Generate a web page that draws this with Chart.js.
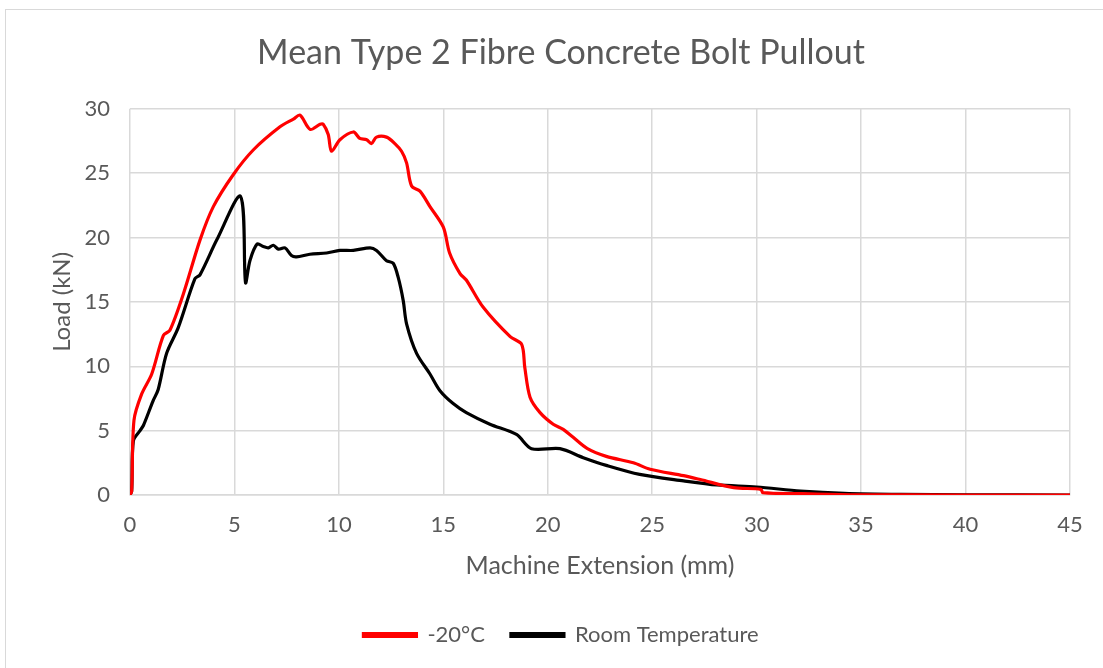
<!DOCTYPE html>
<html>
<head>
<meta charset="utf-8">
<script src="https://cdn.jsdelivr.net/npm/chart.js@4.4.1/dist/chart.umd.min.js"></script>
<style>
    html, body { margin: 0; padding: 0; background: #fff; }
    #wrap { position: absolute; left: 0; top: 0; width: 1103px; height: 668px; }
    #frame { position: absolute; left: 5px; top: 9px; width: 1110px; height: 680px; border: 1px solid #d9d9d9; }
</style>
</head>
<body>
<div id="wrap">
    <div id="frame"></div>
    <canvas id="chart" width="1103" height="668"></canvas>
</div>
<script>
// Mean pullout curves
const coldX = [0, 0.08, 0.19, 0.56, 1.04, 1.6, 1.91, 2.55, 3.35, 3.99, 4.95, 5.9, 7.18, 7.82, 8.14, 8.62, 9.1, 9.25, 9.49, 9.65, 10.05, 10.69, 11.0, 11.33, 11.56, 11.8, 12.28, 12.68, 13.0, 13.24, 13.48, 13.88, 14.36, 15.0, 15.3, 15.8, 16.1, 16.9, 18.2, 18.75, 18.9, 19.15, 19.63, 20.26, 20.74, 21.2, 21.9, 22.8, 24.1, 24.9, 26.5, 27.3, 28.9, 30.2, 30.3, 32.1, 34.5, 40, 45];
const coldY = [0, 0.3, 5.8, 7.85, 9.4, 12.4, 12.8, 15.6, 19.8, 22.4, 24.9, 26.8, 28.6, 29.2, 29.5, 28.4, 28.8, 28.8, 28.0, 26.7, 27.6, 28.2, 27.7, 27.6, 27.3, 27.8, 27.8, 27.3, 26.7, 25.8, 24.0, 23.6, 22.4, 20.8, 18.8, 17.2, 16.7, 14.6, 12.3, 11.7, 9.9, 7.6, 6.4, 5.5, 5.1, 4.5, 3.6, 3.0, 2.5, 2.0, 1.5, 1.2, 0.57, 0.44, 0.18, 0.1, 0.02, 0, 0];

const roomX = [0, 0.08, 0.16, 0.48, 0.64, 1.1, 1.35, 1.75, 2.31, 3.11, 3.35, 4.15, 5.29, 5.53, 5.74, 6.09, 6.38, 6.62, 6.86, 7.1, 7.42, 7.73, 7.97, 8.61, 9.41, 10.05, 10.69, 11.49, 11.8, 12.28, 12.6, 12.84, 13.08, 13.24, 13.72, 14.36, 14.84, 15.47, 16.1, 17.23, 18.5, 19.22, 20.58, 21.7, 22.8, 24.4, 26.5, 28.1, 30.0, 32.1, 34.2, 36.9, 40, 45];
const roomY = [0, 0.3, 4.2, 5.0, 5.4, 7.3, 8.2, 11.0, 13.0, 16.8, 17.1, 19.8, 23.2, 16.5, 18.2, 19.5, 19.3, 19.2, 19.4, 19.1, 19.2, 18.6, 18.5, 18.7, 18.8, 19.0, 19.0, 19.2, 19.0, 18.2, 18.0, 16.9, 15.1, 13.3, 11.0, 9.4, 8.1, 7.1, 6.4, 5.5, 4.7, 3.6, 3.6, 2.9, 2.3, 1.6, 1.1, 0.78, 0.62, 0.31, 0.13, 0.05, 0.02, 0];

const seriesNames = ['-20°C', 'Room Temperature'];
const xTicks = [0, 5, 10, 15, 20, 25, 30, 35, 40, 45];
const yTicks = [0, 5, 10, 15, 20, 25, 30];

const toPoints = (xs, ys) => xs.map((x, i) => ({ x: x, y: ys[i] }));

const grey = '#595959';
const gridGrey = '#d9d9d9';
const font = 'Lato, "Open Sans", sans-serif';

new Chart(document.getElementById('chart').getContext('2d'), {
    type: 'line',
    data: {
        datasets: [{
            label: seriesNames[0],
            data: toPoints(coldX, coldY),
            borderColor: '#ff0000',
            backgroundColor: '#ff0000',
            borderWidth: 3.2,
            pointRadius: 0,
            tension: 0.3,
            fill: false
        }, {
            label: seriesNames[1],
            data: toPoints(roomX, roomY),
            borderColor: '#000000',
            backgroundColor: '#000000',
            borderWidth: 3.2,
            pointRadius: 0,
            tension: 0.3,
            fill: false
        }]
    },
    options: {
        responsive: false,
        animation: false,
        // left padding keeps title and legend centred like the original
        layout: { padding: { left: 52, right: 33, top: 0, bottom: 12 } },
        plugins: {
            title: {
                display: true,
                text: 'Mean Type 2 Fibre Concrete Bolt Pullout',
                color: grey,
                font: { family: font, size: 34, weight: 'normal' },
                padding: { top: 33, bottom: 35 }
            },
            legend: {
                position: 'bottom',
                labels: {
                    color: grey,
                    font: { family: font, size: 22 },
                    boxWidth: 53,
                    boxHeight: 3,
                    padding: 26
                }
            },
            tooltip: { enabled: false }
        },
        scales: {
            x: {
                type: 'linear',
                min: 0,
                max: 45,
                afterBuildTicks: axis => { axis.ticks = xTicks.map(v => ({ value: v })); },
                afterFit: axis => { axis.height = 103; },
                grid: { color: gridGrey, lineWidth: 1.5, drawTicks: false },
                border: { color: gridGrey, width: 1.5 },
                ticks: { color: grey, font: { family: font, size: 22 }, padding: 17, maxRotation: 0 },
                title: {
                    display: true,
                    text: 'Machine Extension (mm)',
                    color: grey,
                    font: { family: font, size: 25 },
                    padding: { top: 0, bottom: 17 }
                }
            },
            y: {
                min: 0,
                max: 30,
                afterBuildTicks: axis => { axis.ticks = yTicks.map(v => ({ value: v })); },
                afterFit: axis => { axis.width = 78; },
                grid: { color: gridGrey, lineWidth: 1.5, drawTicks: false },
                border: { display: false },
                ticks: { color: grey, font: { family: font, size: 22 }, padding: 20 },
                title: {
                    display: true,
                    text: 'Load (kN)',
                    color: grey,
                    font: { family: font, size: 24 },
                    padding: { top: -4, bottom: 0 }
                }
            }
        }
    }
});
</script>
</body>
</html>
